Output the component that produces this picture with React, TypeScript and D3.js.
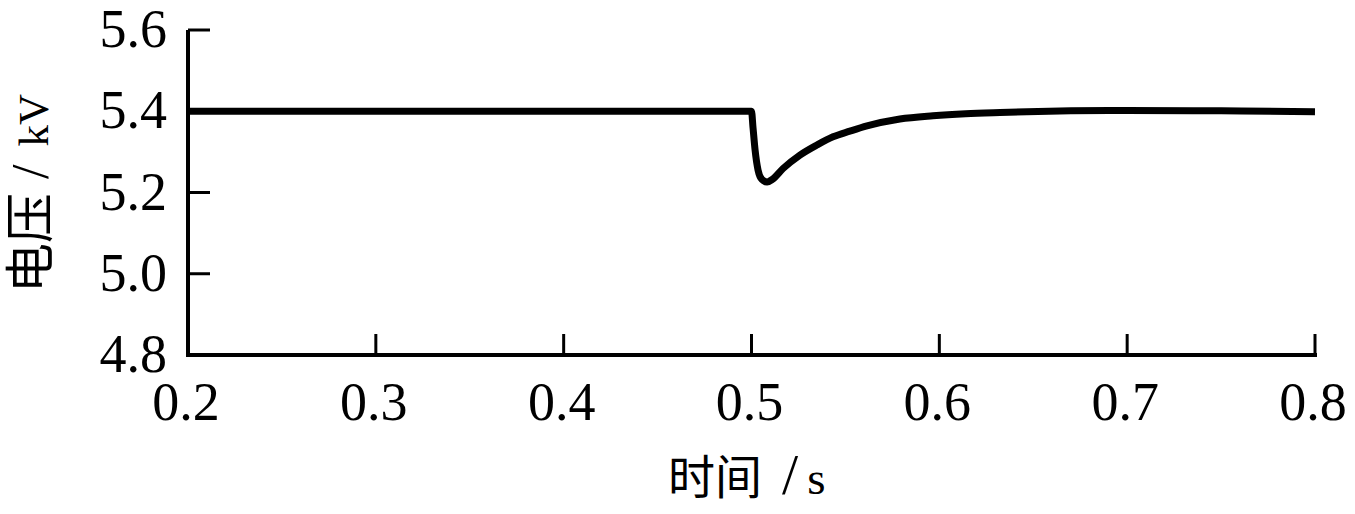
import React from "react";
import * as d3 from "d3";

const xTicks = [0.2, 0.3, 0.4, 0.5, 0.6, 0.7, 0.8];
const yTicks = [4.8, 5.0, 5.2, 5.4, 5.6];
const xTickLabels = ["0.2", "0.3", "0.4", "0.5", "0.6", "0.7", "0.8"];
const yTickLabels = ["4.8", "5.0", "5.2", "5.4", "5.6"];

const times = [0.2, 0.3, 0.4, 0.5, 0.5008, 0.5019, 0.5035, 0.5056, 0.5083, 0.511, 0.5168, 0.5258, 0.5349, 0.5434, 0.5524, 0.5615, 0.579, 0.5966, 0.614, 0.6323, 0.67, 0.7, 0.75, 0.8];
const voltage = [5.4, 5.4, 5.4, 5.4, 5.36, 5.305, 5.255, 5.232, 5.226, 5.232, 5.259, 5.292, 5.317, 5.337, 5.351, 5.364, 5.381, 5.389, 5.394, 5.397, 5.401, 5.402, 5.401, 5.399];

const xTitleCJK = "时间";
const xTitleUnit = "s";
const yTitleCJK = "电压";
const yTitleUnit = "kV";

export default function App() {
  const W = 1355;
  const H = 514;
  const x = d3.scaleLinear().domain([0.2, 0.8]).range([188, 1315]);
  const y = d3.scaleLinear().domain([4.8, 5.6]).range([355, 30]);
  const line = d3
    .line<number>()
    .x((_, i) => x(times[i]))
    .y((d) => y(d))
    .curve(d3.curveMonotoneX);
  const serif = "'Liberation Serif', 'Times New Roman', 'Noto Sans CJK SC', serif";
  return (
    <svg
      width={W}
      height={H}
      style={{ position: "absolute", left: 0, top: 0, background: "#fff" }}
    >
      <rect x={0} y={0} width={W} height={H} fill="#fff" />
      <line x1={x(0.2)} x2={x(0.2)} y1={y(5.6)} y2={y(4.8) + 2} stroke="#000" strokeWidth={4} />
      <line x1={x(0.2) - 2} x2={x(0.8) + 2} y1={y(4.8)} y2={y(4.8)} stroke="#000" strokeWidth={4} />
      {yTicks.map((t) => (
        <line key={"yt" + t} x1={x(0.2)} x2={x(0.2) + 22} y1={y(t)} y2={y(t)} stroke="#000" strokeWidth={3} />
      ))}
      {xTicks.map((t) => (
        <line key={"xt" + t} x1={x(t)} x2={x(t)} y1={y(4.8)} y2={y(4.8) - 21} stroke="#000" strokeWidth={3} />
      ))}
      {yTicks.map((t, i) => (
        <text
          key={"yl" + t}
          x={167}
          y={y(t) + 17}
          textAnchor="end"
          fontFamily={serif}
          fontSize={54}
          fill="#000"
        >
          {yTickLabels[i]}
        </text>
      ))}
      {xTicks.map((t, i) => (
        <text
          key={"xl" + t}
          x={x(t) - 2}
          y={420}
          textAnchor="middle"
          fontFamily={serif}
          fontSize={54}
          fill="#000"
        >
          {xTickLabels[i]}
        </text>
      ))}
      <text x={668} y={494} fontFamily={serif} fontSize={47} fill="#000">
        <tspan>{xTitleCJK}</tspan>
        <tspan dx={20} fontSize={58}>/</tspan>
        <tspan dx={9} fontSize={47}>{xTitleUnit}</tspan>
      </text>
      <text
        transform="translate(48,293) rotate(-90)"
        textAnchor="start"
        fontFamily={serif}
        fontSize={50}
        fill="#000"
      >
        <tspan>{yTitleCJK}</tspan>
        <tspan dx={14} fontSize={52}>/</tspan>
        <tspan dx={18} fontSize={43}>{yTitleUnit}</tspan>
      </text>
      <path
        d={line(voltage) || ""}
        fill="none"
        stroke="#000"
        strokeWidth={7}
        strokeLinejoin="round"
      />
    </svg>
  );
}
